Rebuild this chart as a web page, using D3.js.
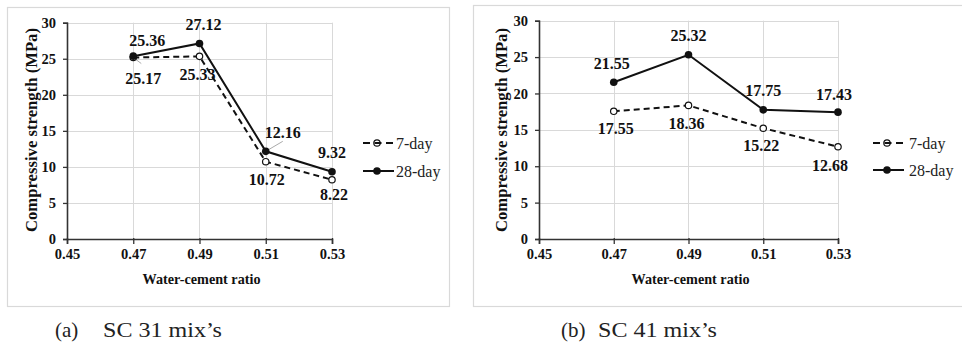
<!DOCTYPE html>
<html><head><meta charset="utf-8">
<script src="https://cdn.jsdelivr.net/npm/d3@7"></script>
<style>body{margin:0;background:#fff}svg{display:block}</style>
</head><body>
<svg id="c" width="962" height="350"></svg>
<script>
// ---- data ----
const xTicks = [0.45, 0.47, 0.49, 0.51, 0.53];
const yTicks = [0, 5, 10, 15, 20, 25, 30];
const ratios = [0.47, 0.49, 0.51, 0.53];
const sc31_7day = [25.17, 25.33, 10.72, 8.22];
const sc31_28day = [25.36, 27.12, 12.16, 9.32];
const sc41_7day = [17.55, 18.36, 15.22, 12.68];
const sc41_28day = [21.55, 25.32, 17.75, 17.43];
const seriesNames = ["7-day", "28-day"];
const xTitle = "Water-cement  ratio";
const yTitle = "Compressive strength (MPa)";
const captionTags = ["(a)", "(b)"];
const captionTexts = ["SC 31 mix’s", "SC 41 mix’s"];

// ---- layout ----
const panels = [
  {box:[7,7,442,299], px:[67,332], py:[239,22.7], yTitleX:32, legX:363, legTextX:396, legY:[143,171],
   capTagX:55, capX:103,
   s7:sc31_7day, s28:sc31_28day,
   off28:[[14,-16],[4,-19],[17,-19],[0,-19]],
   off7:[[10,21],[-2,18],[1,18],[2,15]],
   leaders:[{s:7,i:0,d:[8,6]},{s:28,i:2,d:[17,-10]}]},
  {box:[473,5,500,301], px:[539,838], py:[239,20.7], yTitleX:502, legX:873, legTextX:909, legY:[143,170],
   capTagX:561, capX:598,
   s7:sc41_7day, s28:sc41_28day,
   off28:[[-2,-19],[0,-19],[0,-19],[-4,-18]],
   off7:[[2,17],[-2,18],[-2,17],[-8,19]],
   leaders:[]}
];

const svg = d3.select("#c");
const FONT = "Liberation Serif";

panels.forEach((p, k) => {
  const g = svg.append("g");
  g.append("rect").attr("x", p.box[0]+0.5).attr("y", p.box[1]+0.5)
    .attr("width", p.box[2]).attr("height", p.box[3])
    .attr("fill", "none").attr("stroke", "#d9d9d9").attr("stroke-width", 1.2);

  const x = d3.scaleLinear().domain([0.45, 0.53]).range(p.px);
  const y = d3.scaleLinear().domain([0, 30]).range(p.py);

  // gridlines
  g.append("g").selectAll("line").data(yTicks.slice(1)).join("line")
    .attr("x1", p.px[0]).attr("x2", p.px[1])
    .attr("y1", d => Math.round(y(d))+0.5).attr("y2", d => Math.round(y(d))+0.5)
    .attr("stroke", "#d9d9d9").attr("stroke-width", 1);
  g.append("g").selectAll("line").data(xTicks.slice(1)).join("line")
    .attr("x1", d => Math.round(x(d))+0.5).attr("x2", d => Math.round(x(d))+0.5)
    .attr("y1", p.py[0]).attr("y2", p.py[1])
    .attr("stroke", "#d9d9d9").attr("stroke-width", 1);

  // axes
  const yAxis = d3.axisLeft(y).tickValues(yTicks).tickSize(4).tickPadding(7).tickFormat(d3.format("d"));
  const xAxis = d3.axisBottom(x).tickValues(xTicks).tickSize(5).tickPadding(5).tickFormat(d3.format(".2f"));
  const ya = g.append("g").attr("transform", `translate(${p.px[0]},0)`).call(yAxis);
  const xa = g.append("g").attr("transform", `translate(0,${p.py[0]})`).call(xAxis);
  [ya, xa].forEach(a => {
    a.attr("font-family", FONT).attr("font-size", 14.5).attr("font-weight", "bold");
    a.select(".domain").attr("stroke", "#333").attr("stroke-width", 1.6);
    a.selectAll(".tick line").attr("stroke", "#333").attr("stroke-width", 1.3);
    a.selectAll(".tick text").attr("fill", "#111");
  });
  xa.selectAll(".tick line").attr("y1", -1);
  ya.selectAll(".tick line").attr("x1", 1);

  // titles
  g.append("text").attr("x", (p.px[0]+p.px[1])/2 + 2).attr("y", 284)
    .attr("text-anchor", "middle").attr("font-family", FONT).attr("font-weight", "bold")
    .attr("font-size", 15.5).attr("fill", "#111").attr("textLength", 118).attr("lengthAdjust","spacingAndGlyphs")
    .text(xTitle);
  g.append("text").attr("transform", `translate(${p.yTitleX+5},130) rotate(-90)`)
    .attr("text-anchor", "middle").attr("font-family", FONT).attr("font-weight", "bold")
    .attr("font-size", 16.5).attr("fill", "#111").attr("textLength", 204).attr("lengthAdjust","spacingAndGlyphs")
    .text(yTitle);

  // series lines
  const line = d3.line().x((d, i) => x(ratios[i])).y(d => y(d));
  g.append("path").datum(p.s7).attr("d", line).attr("fill", "none")
    .attr("stroke", "#111").attr("stroke-width", 2).attr("stroke-dasharray", "6,4");
  g.append("path").datum(p.s28).attr("d", line).attr("fill", "none")
    .attr("stroke", "#111").attr("stroke-width", 2);

  // leaders
  p.leaders.forEach(l => {
    const v = (l.s === 7 ? p.s7 : p.s28)[l.i];
    const cx = x(ratios[l.i]), cy = y(v);
    g.append("line").attr("x1", cx).attr("y1", cy).attr("x2", cx + l.d[0]).attr("y2", cy + l.d[1])
      .attr("stroke", "#aaa").attr("stroke-width", 1);
  });

  // markers
  g.append("g").selectAll("circle").data(p.s7).join("circle")
    .attr("cx", (d, i) => x(ratios[i])).attr("cy", d => y(d)).attr("r", 3.2)
    .attr("fill", "#fff").attr("stroke", "#111").attr("stroke-width", 1.2);
  g.append("g").selectAll("circle").data(p.s28).join("circle")
    .attr("cx", (d, i) => x(ratios[i])).attr("cy", d => y(d)).attr("r", 3.8)
    .attr("fill", "#111");

  // data labels
  const lab = (vals, offs) => g.append("g").selectAll("text").data(vals).join("text")
    .attr("x", (d, i) => x(ratios[i]) + offs[i][0])
    .attr("y", (d, i) => y(d) + offs[i][1])
    .attr("dy", "0.35em").attr("text-anchor", "middle")
    .attr("font-family", FONT).attr("font-weight", "bold").attr("font-size", 16)
    .attr("fill", "#111").text(d => d.toFixed(2));
  lab(p.s28, p.off28);
  lab(p.s7, p.off7);

  // legend
  const lx0 = p.legX, lx1 = p.legX + 30, lc = (lx0 + lx1) / 2 - 1;
  g.append("line").attr("x1", lx0).attr("x2", lx1).attr("y1", p.legY[0]).attr("y2", p.legY[0])
    .attr("stroke", "#111").attr("stroke-width", 2).attr("stroke-dasharray", "7,4.5");
  g.append("circle").attr("cx", lc).attr("cy", p.legY[0]).attr("r", 3.2)
    .attr("fill", "none").attr("stroke", "#111").attr("stroke-width", 1.2);
  g.append("line").attr("x1", lx0).attr("x2", lx1 + 1).attr("y1", p.legY[1]).attr("y2", p.legY[1])
    .attr("stroke", "#111").attr("stroke-width", 2);
  g.append("circle").attr("cx", lc).attr("cy", p.legY[1]).attr("r", 3.8).attr("fill", "#111");
  g.append("g").selectAll("text").data(seriesNames).join("text")
    .attr("x", p.legTextX).attr("y", (d, i) => p.legY[i]).attr("dy", "0.35em")
    .attr("font-family", FONT).attr("font-size", 16).attr("fill", "#222").text(d => d);

  // caption
  svg.append("text").attr("x", p.capTagX).attr("y", 337).attr("font-family", FONT)
    .attr("font-size", 21).attr("fill", "#222").text(captionTags[k]);
  svg.append("text").attr("x", p.capX).attr("y", 337).attr("font-family", FONT)
    .attr("font-size", 21).attr("fill", "#222").attr("textLength", 119).attr("lengthAdjust","spacingAndGlyphs")
    .text(captionTexts[k]);
});
</script>
</body></html>
